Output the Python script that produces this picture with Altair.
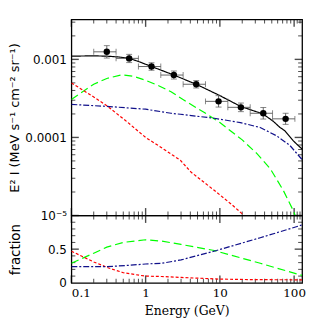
import altair as alt
import pandas as pd

# ---------------- data ----------------
# top panel model curves (E in GeV, E^2 I in MeV s-1 cm-2 sr-1)
tot_E = [0.1, 0.2, 0.3, 0.45, 0.6, 0.8, 1.2, 1.6, 2.4, 4.8, 9.6, 19, 38, 52, 64.6, 75, 97, 113, 128]
tot_v = [1.10e-3, 1.11e-3, 1.10e-3, 1.07e-3, 1.03e-3, 9.4e-4, 8.1e-4, 7.3e-4, 6.3e-4, 4.8e-4,
         3.5e-4, 2.5e-4, 2.0e-4, 1.62e-4, 1.34e-4, 1.22e-4, 9.1e-5, 7.9e-5, 7.1e-5]

grn_E = [0.1, 0.15, 0.2, 0.3, 0.48, 0.7, 1.0, 1.5, 2.2, 3.7, 6.1, 10, 20, 31.6, 47.5, 71.4, 99, 103]
grn_v = [3.06e-4, 4.0e-4, 4.8e-4, 5.7e-4, 6.35e-4, 6.05e-4, 5.4e-4, 4.6e-4, 3.85e-4, 2.8e-4,
         2.1e-4, 1.55e-4, 9.3e-5, 6.2e-5, 4.0e-5, 2.1e-5, 1.12e-5, 1.0e-5]

red_E = [0.1, 0.2, 0.3, 0.53, 1.0, 1.5, 2.33, 2.94, 4.08, 8.4, 14.7, 20, 21]
red_v = [5.0e-4, 3.3e-4, 2.55e-4, 1.66e-4, 1.0e-4, 7.8e-5, 5.9e-5, 5.1e-5, 3.6e-5, 2.1e-5,
         1.36e-5, 1.05e-5, 1.0e-5]

blu_E = [0.1, 0.3, 1.0, 2.2, 2.94, 8.4, 18.9, 34.9, 58, 87.7, 128]
blu_v = [2.65e-4, 2.5e-4, 2.3e-4, 2.04e-4, 1.98e-4, 1.76e-4, 1.55e-4, 1.34e-4, 1.05e-4, 7.9e-5, 5.2e-5]

# data points with error bars
pt_E = [0.3, 0.6, 1.2, 2.4, 4.8, 9.6, 19.2, 38.4, 76.8]
pt_v = [1.25e-3, 1.03e-3, 8.1e-4, 6.3e-4, 4.8e-4, 2.9e-4, 2.43e-4, 2.04e-4, 1.73e-4]
pt_Elo = [0.2, 0.4, 0.8, 1.6, 3.2, 6.4, 12.8, 25.6, 51.2]
pt_Ehi = [0.4, 0.8, 1.6, 3.2, 6.4, 12.8, 25.6, 51.2, 102.4]
pt_vlo = [1.04e-3, 9.1e-4, 7.25e-4, 5.6e-4, 4.3e-4, 2.45e-4, 2.14e-4, 1.72e-4, 1.47e-4]
pt_vhi = [1.50e-3, 1.16e-3, 9.05e-4, 7.1e-4, 5.35e-4, 3.43e-4, 2.76e-4, 2.42e-4, 2.04e-4]

# bottom panel fractions
fg_E = [0.1, 0.2, 0.3, 0.5, 1.0, 1.63, 3.0, 8.4, 35, 119, 128]
fg_v = [0.29, 0.44, 0.53, 0.60, 0.64, 0.62, 0.57, 0.48, 0.29, 0.12, 0.11]
fr_E = [0.1, 0.2, 0.318, 0.5, 0.98, 1.63, 3.0, 10, 30, 100, 128]
fr_v = [0.47, 0.31, 0.22, 0.15, 0.10, 0.094, 0.08, 0.055, 0.047, 0.045, 0.045]
fb_E = [0.1, 0.3, 0.6, 1.0, 1.63, 3.0, 9.0, 35, 113, 128]
fb_v = [0.24, 0.24, 0.26, 0.28, 0.29, 0.34, 0.48, 0.67, 0.84, 0.86]

comp_names = ["total", "green", "red", "blue"]
comp_colors = ["#000000", "#00ff00", "#ff0000", "#10108a"]
comp_dashes = [[1, 0], [8, 4], [3, 2], [6, 2, 2, 2]]

# axis ranges and tick positions (axis decorations)
x_dom = [0.1, 128]
y_dom = [1e-5, 3.25e-3]
f_dom = [0, 1]
x_minor = [round(m * 10.0 ** e, 6) for e in (-1, 0, 1) for m in range(2, 10)] + [110.0, 120.0]
x_major = [0.1, 1.0, 10.0, 100.0]
y_minor = [round(m * 10.0 ** e, 10) for e in (-5, -4) for m in range(2, 10)] + [2e-3, 3e-3]
y_major = [1e-5, 1e-4, 1e-3]
f_minor = [0.1, 0.2, 0.3, 0.4, 0.6, 0.7, 0.8, 0.9]
f_major = [0.5]

# ---------------- tables ----------------
def long(pairs):
    rows = []
    for name, xs_, ys_ in pairs:
        for a, b in zip(xs_, ys_):
            rows.append({"E": a, "v": b, "comp": name})
    return pd.DataFrame(rows)

top_df = long([("total", tot_E, tot_v), ("green", grn_E, grn_v),
               ("red", red_E, red_v), ("blue", blu_E, blu_v)])
bot_df = long([("green", fg_E, fg_v), ("red", fr_E, fr_v), ("blue", fb_E, fb_v)])
pts = pd.DataFrame({"E": pt_E, "v": pt_v, "Elo": pt_Elo, "Ehi": pt_Ehi,
                    "vlo": pt_vlo, "vhi": pt_vhi})

# ---------------- styling ----------------
W, H1, H2 = 233, 198, 68
SERIF = "DejaVu Serif"
SANS = "DejaVu Sans"
MINOR, MAJOR = 4, 7.5

xs = alt.Scale(type="log", domain=x_dom, nice=False)
ys = alt.Scale(type="log", domain=y_dom, nice=False)
fs = alt.Scale(domain=f_dom, nice=False)

color = alt.Color("comp:N", scale=alt.Scale(domain=comp_names, range=comp_colors), legend=None)
dash = alt.StrokeDash("comp:N", scale=alt.Scale(domain=comp_names, range=comp_dashes), legend=None)

# one axis definition per channel and panel, repeated on every layer so they merge
y_lab_top = alt.Axis(
    orient="left", values=y_major,
    labelExpr="datum.value > 0.00099 ? '0.001' : (datum.value > 0.000099 ? '0.0001' : '10⁻⁵')",
    title="E² I (MeV s⁻¹ cm⁻² sr⁻¹)", ticks=False, domain=False, grid=False,
    labelFont=SANS, labelFontSize=12, labelColor="black", labelPadding=5,
    titleFont=SANS, titleFontSize=13, titleFontWeight="normal", titleColor="black",
    titlePadding=3)
x_lab = alt.Axis(orient="bottom", values=x_major, format="~g", title="Energy (GeV)",
                 ticks=False, domain=False, grid=False,
                 labelFont=SERIF, labelFontSize=12, labelColor="black", labelPadding=5,
                 titleFont=SERIF, titleFontSize=12.5, titleFontWeight="normal",
                 titleColor="black", titlePadding=6)
y_lab_bot = alt.Axis(orient="left", values=[0, 0.5], format="~g", title="fraction",
                     ticks=False, domain=False, grid=False,
                     labelFont=SANS, labelFontSize=12, labelColor="black", labelPadding=5,
                     titleFont=SANS, titleFontSize=13.5, titleFontWeight="normal",
                     titleColor="black", titlePadding=25)


def frame_ticks(xvals, yvals, ydom, yscale, length, width, xaxis, yaxis):
    """inward tick marks on the four sides of a panel, placed at the scale edges"""
    out = []
    for edge, off in [(ydom[0], -length / 2), (ydom[1], length / 2)]:
        df = pd.DataFrame({"t": xvals, "e": [edge] * len(xvals)})
        out.append(alt.Chart(df).mark_tick(orient="vertical", size=length, thickness=width,
                                           color="black", yOffset=off).encode(
            x=alt.X("t:Q", scale=xs, axis=xaxis), y=alt.Y("e:Q", scale=yscale, axis=yaxis)))
    for edge, off in [(x_dom[0], length / 2), (x_dom[1], -length / 2)]:
        df = pd.DataFrame({"t": yvals, "e": [edge] * len(yvals)})
        out.append(alt.Chart(df).mark_tick(orient="horizontal", size=length, thickness=width,
                                           color="black", xOffset=off).encode(
            x=alt.X("e:Q", scale=xs, axis=xaxis), y=alt.Y("t:Q", scale=yscale, axis=yaxis)))
    return out


# ---------------- top panel ----------------
TX, TY = None, y_lab_top
curves = alt.Chart(top_df).mark_line(strokeWidth=1.2, clip=True).encode(
    x=alt.X("E:Q", scale=xs, axis=TX),
    y=alt.Y("v:Q", scale=ys, axis=TY),
    color=color, strokeDash=dash, order=alt.Order("E:Q"))

GREY = "#666666"
hbar = alt.Chart(pts).mark_rule(color=GREY, strokeWidth=1).encode(
    x=alt.X("Elo:Q", scale=xs, axis=TX), x2="Ehi:Q",
    y=alt.Y("v:Q", scale=ys, axis=TY))
vbar = alt.Chart(pts).mark_rule(color=GREY, strokeWidth=1).encode(
    x=alt.X("E:Q", scale=xs, axis=TX),
    y=alt.Y("vlo:Q", scale=ys, axis=TY), y2="vhi:Q")
caps = []
for xf, yf, ori in [("Elo", "v", "vertical"), ("Ehi", "v", "vertical"),
                    ("E", "vlo", "horizontal"), ("E", "vhi", "horizontal")]:
    caps.append(alt.Chart(pts).mark_tick(orient=ori, size=6, thickness=1, color="#555555").encode(
        x=alt.X(f"{xf}:Q", scale=xs, axis=TX), y=alt.Y(f"{yf}:Q", scale=ys, axis=TY)))
dots = alt.Chart(pts).mark_circle(size=42, color="black", opacity=1).encode(
    x=alt.X("E:Q", scale=xs, axis=TX), y=alt.Y("v:Q", scale=ys, axis=TY))

top = alt.layer(
    *frame_ticks(x_minor, y_minor, y_dom, ys, MINOR, 1, TX, TY),
    *frame_ticks(x_major, y_major, y_dom, ys, MAJOR, 1.4, TX, TY),
    curves, hbar, vbar, *caps, dots,
).properties(width=W, height=H1)

# ---------------- bottom panel ----------------
BX, BY = x_lab, y_lab_bot
fcurves = alt.Chart(bot_df).mark_line(strokeWidth=1.2, clip=True).encode(
    x=alt.X("E:Q", scale=xs, axis=BX),
    y=alt.Y("v:Q", scale=fs, axis=BY),
    color=color, strokeDash=dash, order=alt.Order("E:Q"))

bottom = alt.layer(
    *frame_ticks(x_minor, f_minor, f_dom, fs, MINOR, 1, BX, BY),
    *frame_ticks(x_major, f_major, f_dom, fs, MAJOR, 1.4, BX, BY),
    fcurves,
).properties(width=W, height=H2)

chart = alt.vconcat(top, bottom, spacing=0, bounds="flush").configure_view(
    stroke="black", strokeWidth=1.3).properties(
    padding={"left": 0, "top": 9, "right": 4, "bottom": 0}, background="white")

chart.save("out.html", embed_options={"renderer": "svg", "actions": False})
